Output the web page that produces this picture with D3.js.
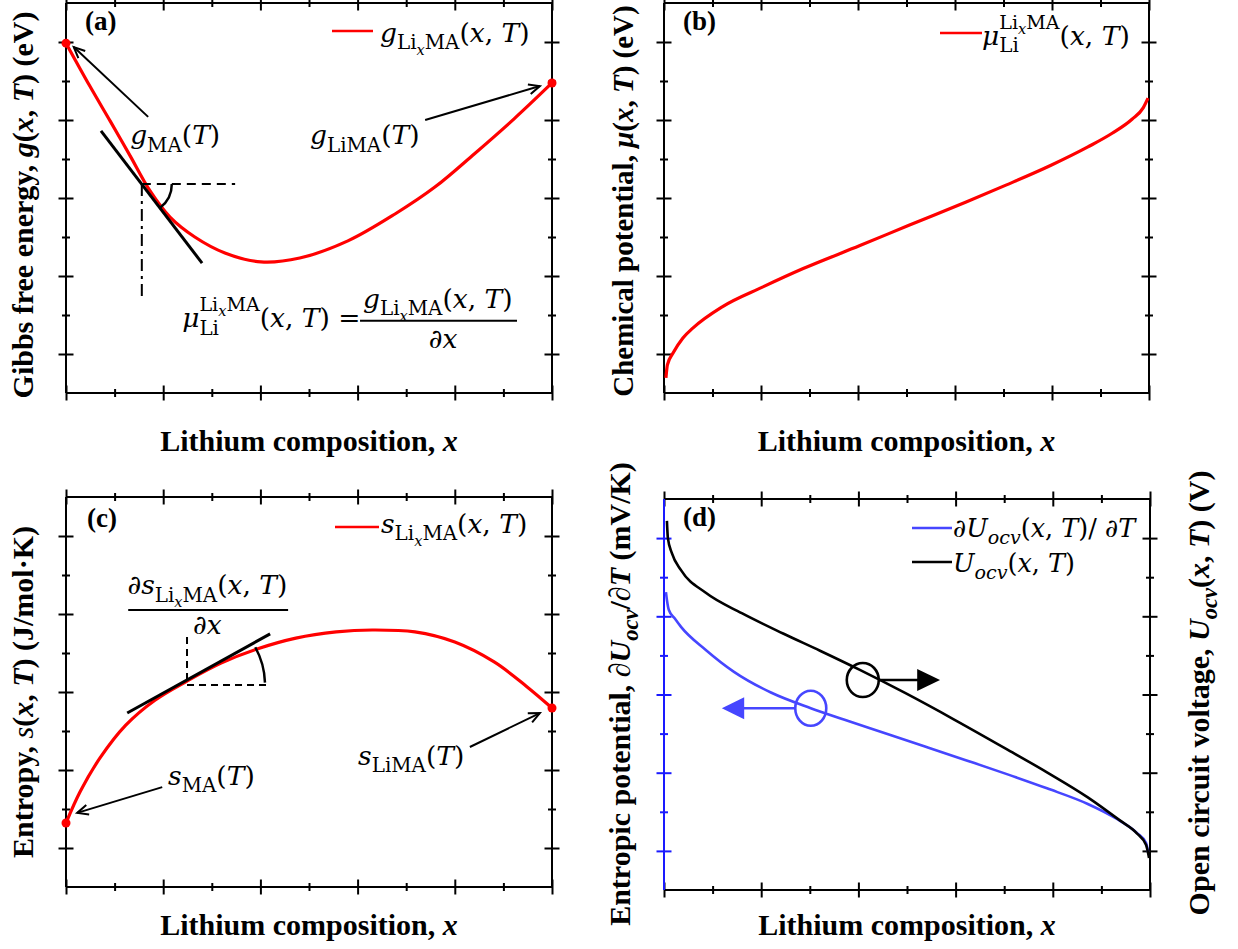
<!DOCTYPE html>
<html><head><meta charset="utf-8">
<script src="https://cdn.jsdelivr.net/npm/d3@7"></script>
<style>body{margin:0;background:#fff}</style>
</head><body>
<svg id="c" width="1238" height="949"></svg>
<script>
// ---------------- data ----------------
const xTicksMajor = [0, 0.2, 0.4, 0.6, 0.8, 1];
const xTicksMinor = [0.1, 0.3, 0.5, 0.7, 0.9];
const yTicksMajor = [1, 3, 5, 7, 9];
const yTicksMinor = [2, 4, 6, 8];

// (a) Gibbs free energy
const gX = [0, 0.049, 0.091, 0.132, 0.173, 0.214, 0.265, 0.327, 0.401, 0.481, 0.58, 0.677, 0.759, 0.84, 0.922, 1.0];
const gY = [8.97, 7.87, 6.97, 6.08, 5.18, 4.51, 4.0, 3.59, 3.36, 3.46, 3.9, 4.59, 5.28, 6.13, 7.03, 7.95];
// (b) chemical potential
const muX = [0.004, 0.007, 0.019, 0.039, 0.06, 0.12, 0.204, 0.287, 0.404, 0.505, 0.623, 0.705, 0.798, 0.874, 0.924, 0.965, 0.988, 0.998];
const muY = [0.385, 0.72, 1.03, 1.41, 1.67, 2.21, 2.72, 3.19, 3.78, 4.30, 4.90, 5.33, 5.84, 6.31, 6.66, 7.02, 7.31, 7.56];
// (c) entropy
const sX = [0, 0.029, 0.07, 0.123, 0.183, 0.249, 0.319, 0.393, 0.473, 0.556, 0.63, 0.718, 0.8, 0.881, 0.947, 1.0];
const sY = [1.64, 2.44, 3.31, 4.15, 4.79, 5.28, 5.74, 6.1, 6.38, 6.54, 6.59, 6.54, 6.28, 5.77, 5.15, 4.59];
// (d) open circuit voltage (right axis) and entropic potential (left axis)
const uX = [0.006, 0.008, 0.016, 0.035, 0.086, 0.16, 0.245, 0.321, 0.403, 0.496, 0.597, 0.704, 0.788, 0.872, 0.938, 0.973, 0.992, 0.998];
const uY = [9.44, 9.0, 8.62, 8.18, 7.6, 7.08, 6.56, 6.12, 5.63, 5.04, 4.36, 3.61, 3.01, 2.37, 1.78, 1.45, 1.15, 0.82];
const dUX = [0.004, 0.006, 0.01, 0.023, 0.035, 0.086, 0.144, 0.22, 0.302, 0.37, 0.455, 0.537, 0.621, 0.704, 0.788, 0.872, 0.93, 0.973, 0.992, 0.996];
const dUY = [7.62, 7.42, 7.16, 6.93, 6.73, 6.14, 5.58, 5.05, 4.65, 4.36, 4.01, 3.67, 3.32, 2.97, 2.6, 2.2, 1.83, 1.46, 1.2, 0.97];

// ---------------- setup ----------------
const svg = d3.select('#c');
const MATH = "'DejaVu Serif', serif", LAB = "'Liberation Serif', 'Times New Roman', serif";
const RED = '#ff0000', BLUE = '#4646ff', BLUEAX = '#1a1aff';
const zip = (a, b) => a.map((v, i) => [v, b[i]]);

const defs = svg.append('defs');
defs.append('marker').attr('id', 'open').attr('viewBox', '-13 -7 15 14')
  .attr('refX', 0).attr('refY', 0).attr('markerWidth', 15).attr('markerHeight', 14)
  .attr('markerUnits', 'userSpaceOnUse').attr('orient', 'auto')
  .append('path').attr('d', 'M-11,-5 L0,0 L-11,5').attr('fill', 'none')
  .attr('stroke', '#000').attr('stroke-width', 2);

const LV = {b: {o: 0, s: 1}, sub: {o: 0.28, s: 0.75}, ss: {o: 0.5, s: 0.55},
            sup: {o: -0.6, s: 0.72}, sps: {o: -0.43, s: 0.55}};
function mtext(parent, x, y, parts, opt = {}) {
  const fs = opt.fs || 26.5;
  const t = parent.append('text').attr('x', x).attr('y', y)
    .attr('font-family', opt.family || MATH).attr('font-size', fs)
    .attr('text-anchor', opt.anchor || 'start')
    .attr('font-weight', opt.weight || 'normal').attr('fill', '#000');
  if (opt.transform) t.attr('transform', opt.transform);
  let cur = 0, prev = null;
  parts.forEach(p => {
    const lv = LV[p.l || 'b'];
    const ts = t.append('tspan').attr('font-size', fs * lv.s)
      .attr('font-style', p.i ? 'italic' : 'normal').text(p.t);
    if (p.w) ts.attr('font-weight', p.w);
    const dy = (lv.o - cur) * fs;
    if (dy) ts.attr('dy', dy);
    if (p.back && prev) ts.attr('dx', -prev.node().getComputedTextLength());
    cur = lv.o; prev = ts;
  });
  return t;
}
const XT = [{t: '('}, {t: 'x', i: 1}, {t: ', '}, {t: 'T', i: 1}, {t: ')'}];
const LIXMA = [{t: 'Li', l: 'sub'}, {t: 'x', i: 1, l: 'ss'}, {t: 'MA', l: 'sub'}];
const MU = [{t: 'μ', i: 1}, {t: 'Li', l: 'sub'}, {t: 'Li', l: 'sup', back: 1},
            {t: 'x', i: 1, l: 'sps'}, {t: 'MA', l: 'sup'}];

const panels = {
  a: {x0: 66, x1: 552, y0: 3, y1: 393},
  b: {x0: 664, x1: 1149, y0: 3, y1: 393},
  c: {x0: 66, x1: 552, y0: 497, y1: 887},
  d: {x0: 664, x1: 1150, y0: 499, y1: 890}
};

function frame(p, leftColor) {
  const x = d3.scaleLinear([0, 1], [p.x0, p.x1]);
  const y = d3.scaleLinear([0, 10], [p.y1, p.y0]);
  const g = svg.append('g');
  const sides = [
    [d3.axisBottom, x, `translate(0,${p.y1})`, 'h', '#000'],
    [d3.axisTop, x, `translate(0,${p.y0})`, 'h', '#000'],
    [d3.axisLeft, y, `translate(${p.x0},0)`, 'v', leftColor],
    [d3.axisRight, y, `translate(${p.x1},0)`, 'v', '#000']];
  sides.forEach(([fn, sc, tr, o, col]) => {
    const sets = o === 'h' ? [[xTicksMajor, 7.5], [xTicksMinor, 4]] : [[yTicksMajor, 7.5], [yTicksMinor, 4]];
    sets.forEach(([vals, h]) => {
      const a = g.append('g').attr('transform', tr)
        .call(fn(sc).tickValues(vals).tickFormat('').tickSize(h).tickSizeOuter(0));
      a.select('.domain').remove();
      a.selectAll('.tick line').attr('stroke', col).attr('stroke-width', 2).each(function () {
        const l = d3.select(this);
        if (o === 'h') l.attr('y1', -l.attr('y2')); else l.attr('x1', -l.attr('x2'));
      });
    });
  });
  const ln = (x1, y1, x2, y2, c) => g.append('line').attr('x1', x1).attr('y1', y1)
    .attr('x2', x2).attr('y2', y2).attr('stroke', c).attr('stroke-width', 2);
  ln(p.x0, p.y1, p.x1, p.y1, '#000');
  ln(p.x0, p.y0, p.x1, p.y0, '#000');
  ln(p.x1, p.y0, p.x1, p.y1, '#000');
  ln(p.x0, p.y0, p.x0, p.y1, leftColor);
  return {x, y, g};
}

function curve(P, data, color, w, cv, ys) {
  const yy = ys || P.y;
  P.g.append('path').datum(data).attr('fill', 'none').attr('stroke', color)
    .attr('stroke-width', w).attr('stroke-linejoin', 'round')
    .attr('d', d3.line().x(d => P.x(d[0])).y(d => yy(d[1])).curve(cv));
}
function seg(P, a, b, opt = {}) {
  const l = P.g.append('line').attr('x1', P.x(a[0])).attr('y1', P.y(a[1]))
    .attr('x2', P.x(b[0])).attr('y2', P.y(b[1])).attr('stroke', opt.c || '#000')
    .attr('stroke-width', opt.w || 2);
  if (opt.dash) l.attr('stroke-dasharray', opt.dash);
  if (opt.arrow) l.attr('marker-end', 'url(#open)');
  return l;
}
function arcAt(P, c, r, a0, a1) {
  const cx = P.x(c[0]), cy = P.y(c[1]);
  const p0 = [cx + r * Math.cos(a0), cy + r * Math.sin(a0)];
  const p1 = [cx + r * Math.cos(a1), cy + r * Math.sin(a1)];
  P.g.append('path').attr('fill', 'none').attr('stroke', '#000').attr('stroke-width', 2.5)
    .attr('d', `M${p0[0]},${p0[1]} A${r},${r} 0 0 ${a1 > a0 ? 1 : 0} ${p1[0]},${p1[1]}`);
}
function xLabel(p, yb) {
  mtext(svg, (p.x0 + p.x1) / 2, yb, [{t: 'Lithium composition, '}, {t: 'x', i: 1}],
    {family: LAB, weight: 'bold', fs: 30, anchor: 'middle'});
}
function yLabel(cx, cy, parts, fs) {
  mtext(svg, 0, 0, parts, {family: LAB, weight: 'bold', fs: fs || 30, anchor: 'middle',
    transform: `translate(${cx},${cy}) rotate(-90)`});
}
function panelTag(x, y, s) {
  svg.append('text').attr('x', x).attr('y', y).attr('font-family', LAB)
    .attr('font-weight', 'bold').attr('font-size', 27).text(s);
}
function legendLine(x1, x2, y, c) {
  svg.append('line').attr('x1', x1).attr('x2', x2).attr('y1', y).attr('y2', y)
    .attr('stroke', c).attr('stroke-width', 2.5);
}

// ---------------- panel (a) ----------------
{
  const P = frame(panels.a, '#000');
  const data = zip(gX, gY);
  curve(P, data, RED, 3.2, d3.curveCatmullRom.alpha(0.5));
  P.g.selectAll('circle.end').data([data[0], data[data.length - 1]]).join('circle')
    .attr('cx', d => P.x(d[0])).attr('cy', d => P.y(d[1])).attr('r', 4.5).attr('fill', RED);
  seg(P, [0.072, 6.72], [0.28, 3.33], {w: 3});
  seg(P, [0.156, 5.36], [0.348, 5.36], {dash: '9,6', w: 2});
  seg(P, [0.156, 5.36], [0.156, 2.38], {dash: '12,5,3,5', w: 2});
  arcAt(P, [0.156, 5.36], 30, 0, Math.atan2(132, 101));
  seg(P, [0.169, 7.08], [0.016, 8.87], {arrow: 1});
  seg(P, [0.739, 7.0], [0.975, 7.87], {arrow: 1});
  mtext(P.g, P.x(0.132), P.y(6.38), [{t: 'g', i: 1}, {t: 'MA', l: 'sub'}, {t: '('}, {t: 'T', i: 1}, {t: ')'}]);
  mtext(P.g, P.x(0.502), P.y(6.38), [{t: 'g', i: 1}, {t: 'LiMA', l: 'sub'}, {t: '('}, {t: 'T', i: 1}, {t: ')'}]);
  // formula
  mtext(P.g, P.x(0.239), P.y(1.69), [...MU, ...XT, {t: ' ='}]);
  seg(P, [0.605, 1.85], [0.928, 1.85], {w: 2});
  mtext(P.g, P.x(0.765), P.y(2.18), [{t: 'g', i: 1}, ...LIXMA, ...XT], {anchor: 'middle'});
  mtext(P.g, P.x(0.776), P.y(1.15), [{t: '∂'}, {t: 'x', i: 1}], {anchor: 'middle'});
  legendLine(332, 373, 31, RED);
  mtext(svg, 380, 42, [{t: 'g', i: 1}, ...LIXMA, ...XT]);
  panelTag(85, 30, '(a)');
  xLabel(panels.a, 451);
  yLabel(33, 205, [{t: 'Gibbs free energy, '}, {t: 'g', i: 1}, {t: '('}, {t: 'x', i: 1},
    {t: ', '}, {t: 'T', i: 1}, {t: ') (eV)'}]);
}

// ---------------- panel (b) ----------------
{
  const P = frame(panels.b, '#000');
  curve(P, zip(muX, muY), RED, 3.2, d3.curveMonotoneX);
  legendLine(940, 982, 33, RED);
  mtext(svg, 982, 45, [...MU, ...XT]);
  panelTag(683, 30, '(b)');
  xLabel(panels.b, 451);
  yLabel(633, 201, [{t: 'Chemical potential, '}, {t: 'μ', i: 1}, {t: '('}, {t: 'x', i: 1},
    {t: ', '}, {t: 'T', i: 1}, {t: ') (eV)'}], 29);
}

// ---------------- panel (c) ----------------
{
  const P = frame(panels.c, '#000');
  const data = zip(sX, sY);
  curve(P, data, RED, 3.2, d3.curveCatmullRom.alpha(0.5));
  P.g.selectAll('circle.end').data([data[0], data[data.length - 1]]).join('circle')
    .attr('cx', d => P.x(d[0])).attr('cy', d => P.y(d[1])).attr('r', 4.5).attr('fill', RED);
  seg(P, [0.126, 4.46], [0.42, 6.49], {w: 3});
  seg(P, [0.249, 6.41], [0.249, 5.18], {dash: '7,5', w: 2});
  seg(P, [0.249, 5.18], [0.418, 5.18], {dash: '7,5', w: 2});
  arcAt(P, [0.249, 5.18], 78, -0.03, -Math.atan2(79, 143));
  mtext(P.g, P.x(0.291), P.y(7.51), [{t: '∂'}, {t: 's', i: 1}, ...LIXMA, ...XT], {anchor: 'middle'});
  seg(P, [0.128, 7.1], [0.457, 7.1], {w: 2});
  mtext(P.g, P.x(0.291), P.y(6.49), [{t: '∂'}, {t: 'x', i: 1}], {anchor: 'middle'});
  mtext(P.g, P.x(0.21), P.y(2.62), [{t: 's', i: 1}, {t: 'MA', l: 'sub'}, {t: '('}, {t: 'T', i: 1}, {t: ')'}]);
  mtext(P.g, P.x(0.601), P.y(3.13), [{t: 's', i: 1}, {t: 'LiMA', l: 'sub'}, {t: '('}, {t: 'T', i: 1}, {t: ')'}]);
  seg(P, [0.198, 2.56], [0.023, 1.9], {arrow: 1});
  seg(P, [0.831, 3.59], [0.975, 4.46], {arrow: 1});
  legendLine(335, 379, 527, RED);
  mtext(svg, 381, 533, [{t: 's', i: 1}, ...LIXMA, ...XT]);
  panelTag(87, 527, '(c)');
  xLabel(panels.c, 935);
  yLabel(33, 692, [{t: 'Entropy, '}, {t: 's', i: 1, w: 'normal'}, {t: '('}, {t: 'x', i: 1},
    {t: ', '}, {t: 'T', i: 1}, {t: ') (J/mol·K)'}]);
}

// ---------------- panel (d) ----------------
{
  const P = frame(panels.d, BLUEAX);
  const yR = d3.scaleLinear([0, 10], [panels.d.y1, panels.d.y0]);
  curve(P, zip(dUX, dUY), BLUE, 2.6, d3.curveMonotoneX);
  curve(P, zip(uX, uY), '#000', 2.6, d3.curveMonotoneX, yR);
  // indicator circles and arrows
  const tri = (tipX, baseX, yv, c) => {
    const ty = P.y(yv);
    P.g.append('path').attr('fill', c)
      .attr('d', `M${P.x(tipX)},${ty} L${P.x(baseX)},${ty - 11} L${P.x(baseX)},${ty + 11} Z`);
  };
  P.g.append('ellipse').attr('cx', P.x(0.409)).attr('cy', P.y(5.37)).attr('rx', 16).attr('ry', 17)
    .attr('fill', 'none').attr('stroke', '#000').attr('stroke-width', 2.6);
  seg(P, [0.442, 5.37], [0.525, 5.37], {w: 2.6});
  tri(0.568, 0.521, 5.37, '#000');
  P.g.append('ellipse').attr('cx', P.x(0.302)).attr('cy', P.y(4.65)).attr('rx', 15.5).attr('ry', 17.5)
    .attr('fill', 'none').attr('stroke', BLUE).attr('stroke-width', 2.6);
  seg(P, [0.27, 4.65], [0.16, 4.65], {w: 2.6, c: BLUE});
  tri(0.119, 0.165, 4.65, BLUE);
  legendLine(912, 952, 528, BLUE);
  mtext(svg, 953, 537, [{t: '∂'}, {t: 'U', i: 1}, {t: 'ocv', i: 1, l: 'sub'}, ...XT, {t: '/ ∂'}, {t: 'T', i: 1}], {fs: 25.5});
  legendLine(912, 952, 562, '#000');
  mtext(svg, 953, 572, [{t: 'U', i: 1}, {t: 'ocv', i: 1, l: 'sub'}, ...XT], {fs: 25.5});
  panelTag(683, 526, '(d)');
  xLabel(panels.d, 935);
  yLabel(630, 694, [{t: 'Entropic potential, ∂'}, {t: 'U', i: 1}, {t: 'ocv', i: 1, l: 'sub'},
    {t: '/∂'}, {t: 'T', i: 1}, {t: ' (mV/K)'}]);
  yLabel(1209, 693, [{t: 'Open circuit voltage, '}, {t: 'U', i: 1}, {t: 'ocv', i: 1, l: 'sub'},
    {t: '('}, {t: 'x', i: 1}, {t: ', '}, {t: 'T', i: 1}, {t: ') (V)'}]);
}
</script>
</body></html>
